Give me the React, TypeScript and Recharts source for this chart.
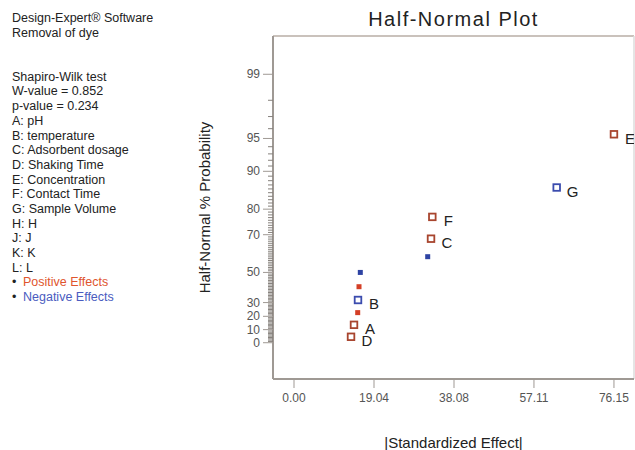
import React from "react";
import { ScatterChart, Scatter, XAxis, YAxis, ReferenceLine } from "recharts";

// effects, ordered by half-normal rank
const effectLabels = ["D", "A", "", "B", "", "", "", "C", "F", "G", "E"];
const effectSigns = ["+", "+", "+", "-", "+", "-", "-", "+", "+", "-", "+"];
const effectSizes = [13.57, 14.28, 15.16, 15.23, 15.47, 15.78, 31.82, 32.61, 32.92, 62.52, 76.15];
const probabilities = [4.55, 13.64, 22.73, 31.82, 40.91, 50.0, 59.09, 68.18, 77.27, 86.36, 95.45];

const xTicks = [0, 19.04, 38.08, 57.11, 76.15];
const probTicks = [0, 10, 20, 30, 50, 70, 80, 90, 95, 99];

const infoLines = [
  "Design-Expert® Software",
  "Removal of dye",
  "",
  "",
  "Shapiro-Wilk test",
  "W-value = 0.852",
  "p-value = 0.234",
  "A: pH",
  "B: temperature",
  "C: Adsorbent dosage",
  "D: Shaking Time",
  "E: Concentration",
  "F: Contact Time",
  "G: Sample Volume",
  "H: H",
  "J: J",
  "K: K",
  "L: L",
];

const FONT = '"Liberation Sans", Arial, sans-serif';
const AXIS_GREY = "#9f9994";
const MINOR_GREY = "#86817c";
const POS_OPEN = "#a8452e";
const NEG_OPEN = "#3b4cae";
const POS_FILL = "#d43f26";
const NEG_FILL = "#2e43a3";

// inverse standard normal CDF (Acklam)
function normInv(p: number): number {
  const a = [-39.69683028665376, 220.9460984245205, -275.9285104469687, 138.357751867269, -30.66479806614716, 2.506628277459239];
  const b = [-54.47609879822406, 161.5858368580409, -155.6989798598866, 66.80131188771972, -13.28068155288572];
  const c = [-0.007784894002430293, -0.3223964580411365, -2.400758277161838, -2.549732539343734, 4.374664141464968, 2.938163982698783];
  const d = [0.007784695709041462, 0.3224671290700398, 2.445134137142996, 3.754408661907416];
  const pl = 0.02425;
  if (p < pl) {
    const q = Math.sqrt(-2 * Math.log(p));
    return (((((c[0] * q + c[1]) * q + c[2]) * q + c[3]) * q + c[4]) * q + c[5]) / ((((d[0] * q + d[1]) * q + d[2]) * q + d[3]) * q + 1);
  }
  if (p <= 1 - pl) {
    const q = p - 0.5;
    const r = q * q;
    return ((((((a[0] * r + a[1]) * r + a[2]) * r + a[3]) * r + a[4]) * r + a[5]) * q) / (((((b[0] * r + b[1]) * r + b[2]) * r + b[3]) * r + b[4]) * r + 1);
  }
  const q = Math.sqrt(-2 * Math.log(1 - p));
  return -(((((c[0] * q + c[1]) * q + c[2]) * q + c[3]) * q + c[4]) * q + c[5]) / ((((d[0] * q + d[1]) * q + d[2]) * q + d[3]) * q + 1);
}

// half-normal probability (%) -> plotting position
const halfNormal = (pct: number) => normInv(0.5 + pct / 200);

const Y_MIN = -0.348;
const Y_MAX = 2.943;
const X_MIN = -5.0;
const X_MAX = 80.92;

const majorTicks = probTicks.map((p) => ({ z: halfNormal(p), label: String(p) }));
const minorTicks: number[] = [];
for (let p = 1; p < 99; p++) {
  if (!probTicks.includes(p)) minorTicks.push(halfNormal(p));
}
const yTicks = [...majorTicks.map((t) => t.z), ...minorTicks].sort((m, n) => m - n);

const points = effectSizes.map((x, i) => ({
  x,
  y: halfNormal(probabilities[i]),
  label: effectLabels[i],
  sign: effectSigns[i],
}));

// long tick + label on the major probabilities, short tick on every other percent
const YTick = (props: any) => {
  const { x, y, payload } = props;
  const axisX = x + 13;
  const major = majorTicks.find((t) => Math.abs(t.z - payload.value) < 1e-9);
  return (
    <g>
      <line
        x1={axisX}
        x2={axisX - (major ? 10 : 5)}
        y1={y}
        y2={y}
        stroke={major ? AXIS_GREY : MINOR_GREY}
        strokeWidth={1}
      />
      {major && (
        <text x={x} y={y} textAnchor="end" dominantBaseline="central" fontSize={12} fill="#555" fontFamily={FONT}>
          {major.label}
        </text>
      )}
    </g>
  );
};

const EffectMarker = (props: any) => {
  const { cx, cy } = props;
  const pt = props.payload ?? props;
  const positive = pt.sign === "+";
  if (!pt.label) {
    return <rect x={cx - 2.5} y={cy - 2.5} width={5} height={5} fill={positive ? POS_FILL : NEG_FILL} />;
  }
  const col = positive ? POS_OPEN : NEG_OPEN;
  return (
    <g>
      <rect x={cx - 3.3} y={cy - 3.3} width={6.6} height={6.6} fill="#fff" stroke={col} strokeWidth={1.8} />
      <text x={cx + 16} y={cy + 4} textAnchor="middle" dominantBaseline="central" fontSize={15} fill="#222" fontFamily={FONT}>
        {pt.label}
      </text>
    </g>
  );
};

export default function App() {
  return (
    <div style={{ position: "absolute", left: 0, top: 0, width: 635, height: 450, background: "#fff", fontFamily: FONT }}>
      <div style={{ position: "absolute", left: 12, top: 11, fontSize: 12.5, lineHeight: "14.68px", color: "#222", whiteSpace: "pre" }}>
        {infoLines.map((line, i) => (
          <div key={i}>{line || "\u00a0"}</div>
        ))}
        <div>
          <span style={{ display: "inline-block", width: 11 }}>•</span>
          <span style={{ color: "#e0552e" }}>Positive Effects</span>
        </div>
        <div>
          <span style={{ display: "inline-block", width: 11 }}>•</span>
          <span style={{ color: "#4a5cc0" }}>Negative Effects</span>
        </div>
      </div>
      <div style={{ position: "absolute", left: 273, width: 361, top: 8, textAlign: "center", fontSize: 20, letterSpacing: 1.5, color: "#222" }}>
        Half-Normal Plot
      </div>
      <ScatterChart width={635} height={450} margin={{ top: 36, right: 1, bottom: 0, left: 0 }}>
        <XAxis
          type="number"
          dataKey="x"
          domain={[X_MIN, X_MAX]}
          allowDataOverflow
          ticks={xTicks}
          interval={0}
          tickFormatter={(v: number) => v.toFixed(2)}
          height={71}
          tickSize={9}
          tickMargin={5}
          axisLine={{ stroke: AXIS_GREY, strokeWidth: 2 }}
          tickLine={{ stroke: AXIS_GREY }}
          tick={{ fontSize: 12, fill: "#555", fontFamily: FONT }}
          label={{ value: "|Standardized Effect|", position: "insideBottom", offset: 2, fontSize: 15, fill: "#222", fontFamily: FONT }}
        />
        <YAxis
          type="number"
          dataKey="y"
          domain={[Y_MIN, Y_MAX]}
          allowDataOverflow
          ticks={yTicks}
          interval={0}
          width={273}
          tickSize={10}
          tickMargin={3}
          tickLine={{ stroke: "transparent" }}
          tick={<YTick />}
          axisLine={{ stroke: AXIS_GREY, strokeWidth: 2 }}
          label={{ value: "Half-Normal % Probability", angle: -90, position: "center", dx: 68, fontSize: 15, fill: "#222", fontFamily: FONT }}
        />
        <ReferenceLine y={Y_MAX} stroke="#b8aea6" strokeWidth={1.5} />
        <ReferenceLine x={X_MAX} stroke="#dcdcdc" strokeWidth={1.5} />
        <Scatter data={points} shape={<EffectMarker />} isAnimationActive={false} />
      </ScatterChart>
    </div>
  );
}
